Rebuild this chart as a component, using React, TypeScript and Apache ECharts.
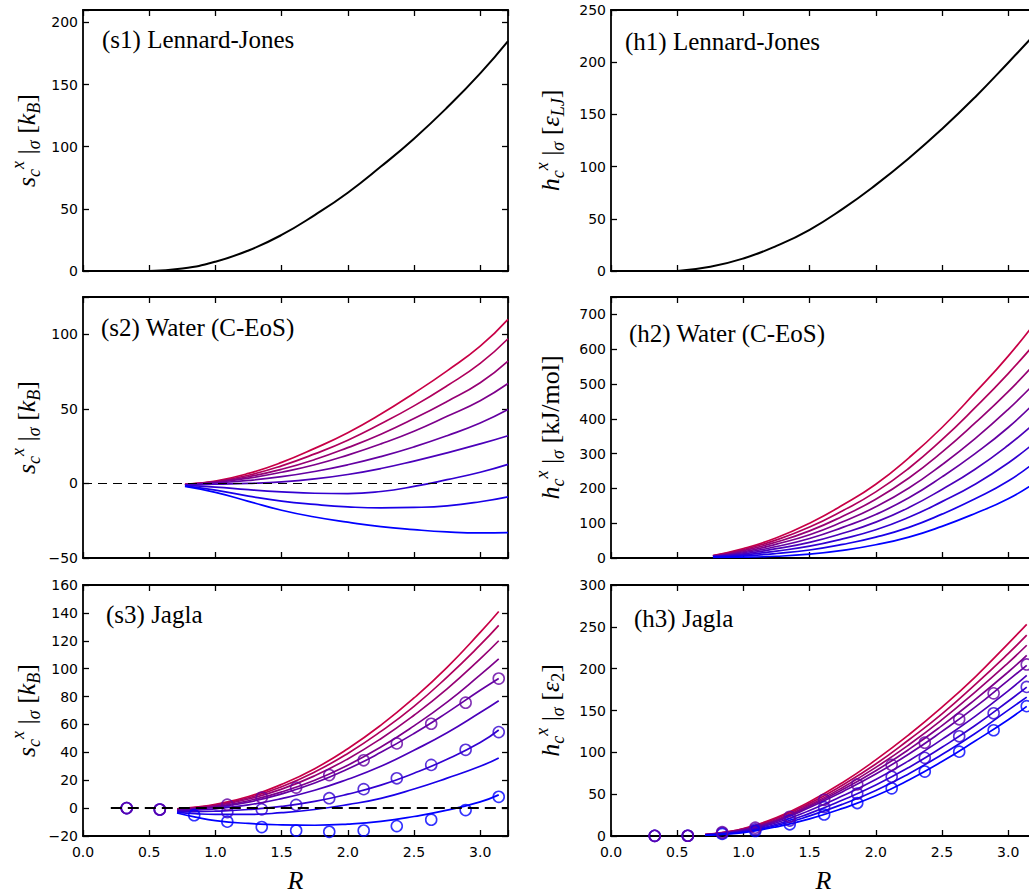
import React, { useEffect, useRef } from 'react';
import * as echarts from 'echarts';

// ---------- data ----------
const X_MAX = 3.21;

// Lennard-Jones
const R_LJ = [0.5, 0.75, 1.0, 1.25, 1.5, 1.75, 2.0, 2.25, 2.5, 2.75, 3.0, 3.21];
const S1 = [0, 2, 7.5, 16.5, 29, 45, 63, 84, 106.5, 131.5, 159, 185];
const H1 = [0, 4, 12, 24, 39.5, 59.5, 82.5, 108, 136, 166.5, 199.5, 228];

// Water (C-EoS): 9 curves, top (crimson) -> bottom (blue)
const R_WATER = [0.77, 1.0, 1.25, 1.5, 1.75, 2.0, 2.25, 2.5, 2.75, 3.0, 3.21];
const S2_1 = [-0.6, 1.6, 6.7, 14.1, 23.5, 34, 46.5, 60.5, 75.5, 92, 110];
const S2_2 = [-0.7, 1.3, 5.5, 11.8, 19.8, 29, 40, 52, 65.5, 80.5, 97];
const S2_3 = [-0.8, 1, 4.5, 9.5, 16, 24, 33, 43.5, 55, 67.5, 82];
const S2_4 = [-0.9, 0.7, 3.5, 7.5, 12.5, 19, 26.5, 35, 45, 55.5, 67];
const S2_5 = [-1, 0.3, 2, 4.5, 8, 12.5, 18, 24.5, 32, 40.5, 49.5];
const S2_6 = [-1.1, -0.5, 0, 1, 3, 6, 10, 15, 20.5, 26.5, 32];
const S2_7 = [-1.3, -2.5, -4.2, -5.6, -6.6, -6.8, -5.4, -2, 2.5, 7.5, 12.8];
const S2_8 = [-1.6, -4.5, -8.5, -11.9, -14.1, -15.7, -16.4, -16.1, -15, -12.3, -9];
const S2_9 = [-2, -6, -12, -18, -22.5, -26, -29, -31, -32.5, -33.2, -33];

const H2_1 = [7, 27, 58, 100, 152, 212, 288, 375, 475, 580, 680];
const H2_2 = [6.5, 24, 52, 89, 136, 190, 258, 340, 432, 530, 620];
const H2_3 = [6, 21, 46, 78, 120, 169, 230, 304, 388, 478, 562];
const H2_4 = [5.5, 18, 40, 67, 104, 147, 201, 268, 343, 427, 506];
const H2_5 = [5, 15, 33, 56, 88, 125, 173, 233, 300, 375, 450];
const H2_6 = [4.5, 12, 27, 45, 71, 103, 145, 197, 255, 324, 391];
const H2_7 = [4, 9, 20, 34, 55, 81, 117, 162, 212, 273, 335];
const H2_8 = [3, 6, 13, 23, 39, 60, 88, 126, 170, 221, 278];
const H2_9 = [2, 2.5, 5, 11, 22, 38, 60, 91, 128, 170, 218];

// Jagla: 9 theory curves + 3 simulation series
const R_JAGLA = [0.71, 0.85, 1.0, 1.25, 1.5, 1.75, 2.0, 2.25, 2.5, 2.75, 3.0, 3.14];
const S3_1 = [-0.6, 0.7, 2.7, 8.3, 17, 28.3, 42.6, 59.5, 79, 101, 126, 141];
const S3_2 = [-0.8, 0.4, 2.2, 7.4, 15.3, 25.9, 39.2, 55, 73, 94, 117, 131];
const S3_3 = [-1, 0.1, 1.7, 6.5, 13.6, 23.2, 35.3, 49.8, 66.6, 85.5, 107, 120];
const S3_4 = [-1.2, -0.3, 1.1, 5.3, 11.6, 20, 30.8, 43.8, 59, 76, 95.5, 107];
const S3_5 = [-1.5, -0.6, 0.6, 4.3, 10.2, 18, 28, 40, 53.5, 68.5, 84.5, 93];
const S3_6 = [-2, -1.4, -0.5, 2.3, 6.8, 12.8, 20.7, 30, 41.5, 54, 68.5, 77];
const S3_7 = [-2.5, -2.5, -2.2, -1, 1.2, 4.8, 10, 16.5, 25, 35, 47, 56];
const S3_8 = [-3, -4, -4.5, -4.5, -3.3, -1, 2.5, 7, 13.7, 21.5, 30, 36];
const S3_9 = [-3.5, -6.5, -9, -11, -12, -12.3, -11.5, -9.5, -6, -1.5, 4.5, 9.5];

const H3_1 = [1.8, 4.5, 9, 22, 41, 64, 91, 121, 154, 190, 230, 253];
const H3_2 = [1.7, 4.2, 8.5, 21, 39, 61, 86, 115, 146, 181, 218, 240];
const H3_3 = [1.6, 4, 8, 19.5, 37, 58, 82, 109, 139, 172, 207, 228];
const H3_4 = [1.5, 3.8, 7.5, 18.5, 35.5, 55.5, 78, 103.5, 132, 163, 196, 216];
const H3_5 = [1.4, 3.5, 7, 17.5, 34, 53, 74, 98, 125, 154, 186, 204];
const H3_6 = [1.3, 3.2, 6.2, 15.8, 30.5, 48, 67.5, 90, 115.5, 143, 173.5, 192];
const H3_7 = [1.2, 2.8, 5.5, 14, 27, 43, 61, 82, 106, 132, 161, 178];
const H3_8 = [1.1, 2.4, 4.8, 12.5, 24, 38, 54.5, 74.5, 97.5, 122.5, 150.5, 166];
const H3_9 = [1, 2, 4, 11, 20.5, 33, 48, 67, 89, 113.5, 139, 155];

const R_SIM = [0.33, 0.58, 0.84, 1.09, 1.35, 1.61, 1.86, 2.12, 2.37, 2.63, 2.89, 3.14];
const S3_SIM_PURPLE = [0, -1, null, 2.5, 7.6, 14.7, 23.7, 34.3, 46.4, 60.5, 75.6, 92.9];
const S3_SIM_VIOLET = [0, -1, null, -2.8, -0.9, 2.3, 7.1, 13.6, 21.4, 31, 41.8, 54.5];
const S3_SIM_BLUE = [0, -1, -5.1, -9.7, -13.6, -16.1, -17, -16.1, -12.9, -8.3, -1.4, 8.1];
const H3_SIM_PURPLE = [0.2, 0.3, 4.5, 10, 23, 43.3, 61.7, 85, 111.5, 139.5, 170.5, 205];
const H3_SIM_VIOLET = [0.2, 0.3, 3.5, 8, 18.5, 34.5, 50.6, 70.8, 93.4, 119.2, 146.7, 178.2];
const H3_SIM_BLUE = [0.2, 0.3, 2.5, 6, 14, 25.7, 39.4, 57, 77, 100.8, 126.4, 155.2];

const ZERO_S2_X = [0, 3.21];
const ZERO_S3_X = [0.21, 3.21];

const PANEL_LABELS = ['(s1) Lennard-Jones', '(h1) Lennard-Jones', '(s2) Water (C-EoS)', '(h2) Water (C-EoS)', '(s3) Jagla', '(h3) Jagla'];

// ---------- styles ----------
const COLORS = ['#C80046', '#AF005D', '#960074', '#7D008B', '#6400A2', '#4B00BA', '#3200D1', '#1900E8', '#0000FF'];
const SANS = 'DejaVu Sans';
const SERIF = 'Liberation Serif';

const COL_X = [83, 611];
const ROW_Y = [10, 297, 585];
const PW = 425;
const PH = 261;

const LABEL_POS = [
  [102, 39], [625, 41],
  [101, 327], [629, 333],
  [106, 614], [634, 618],
];

const zip = (xs: number[], ys: (number | null)[]) => xs.map((x, i) => [x, ys[i] === null ? '-' : ys[i]]);
const fmtNum = (v: number) => (v < 0 ? '\u2212' + Math.abs(v) : String(v));
const onStep = (v: number, s: number) => Math.abs(v / s - Math.round(v / s)) < 1e-6;

const rich: any = {
  i: { fontFamily: SERIF, fontStyle: 'italic', fontSize: 26, lineHeight: 34, color: '#000' },
  r: { fontFamily: SERIF, fontSize: 26, lineHeight: 34, color: '#000' },
  sb: { fontFamily: SERIF, fontStyle: 'italic', fontSize: 18, lineHeight: 18, verticalAlign: 'bottom', color: '#000' },
  sbr: { fontFamily: SERIF, fontSize: 18, lineHeight: 18, verticalAlign: 'bottom', color: '#000' },
  sp: { fontFamily: SERIF, fontStyle: 'italic', fontSize: 18, lineHeight: 18, verticalAlign: 'top', color: '#000' },
};

const Y_NAMES = [
  '{i|s}{sb|c}{sp|x}{r| |}{sb|σ}{r| [}{i|k}{sb|B}{r|]}',
  '{i|h}{sb|c}{sp|x}{r| |}{sb|σ}{r| [}{i|ε}{sb|LJ}{r|]}',
  '{i|s}{sb|c}{sp|x}{r| |}{sb|σ}{r| [}{i|k}{sb|B}{r|]}',
  '{i|h}{sb|c}{sp|x}{r| |}{sb|σ}{r| [kJ/mol]}',
  '{i|s}{sb|c}{sp|x}{r| |}{sb|σ}{r| [}{i|k}{sb|B}{r|]}',
  '{i|h}{sb|c}{sp|x}{r| |}{sb|σ}{r| [}{i|ε}{sbr|2}{r|]}',
];

const Y_RANGES: [number, number, number][] = [
  [0, 210, 50], [0, 250, 50],
  [-50, 125, 50], [0, 750, 100],
  [-20, 160, 20], [0, 300, 50],
];

export default function App() {
  const ref = useRef<HTMLDivElement>(null);

  useEffect(() => {
    const chart = echarts.init(ref.current!, null, { renderer: 'svg' });

    const grids: any[] = [];
    const xAxes: any[] = [];
    const yAxes: any[] = [];
    const series: any[] = [];
    const graphics: any[] = [];

    const axisLine = { show: true, onZero: false, lineStyle: { color: '#000', width: 1.8 } };
    const axisTick = { show: true, inside: true, length: 6, lineStyle: { color: '#000', width: 1.3 } };

    for (let i = 0; i < 6; i++) {
      const col = i % 2;
      const row = Math.floor(i / 2);
      grids.push({ left: COL_X[col], top: ROW_Y[row], width: PW, height: PH, containLabel: false });
      const showX = row === 2;
      const xBase = {
        type: 'value', gridIndex: i, min: 0, max: X_MAX, interval: 0.5,
        axisLine, axisTick, splitLine: { show: false },
      };
      xAxes.push({
        ...xBase, position: 'bottom',
        axisLabel: {
          show: showX, margin: 9, fontFamily: SANS, fontSize: 14, color: '#000',
          formatter: (v: number) => (onStep(v, 0.5) ? v.toFixed(1) : ''),
        },
        name: showX ? 'R' : '', nameLocation: 'middle', nameGap: 31,
        nameTextStyle: { fontFamily: SERIF, fontStyle: 'italic', fontSize: 26, color: '#000' },
      });
      xAxes.push({ ...xBase, position: 'top', axisLabel: { show: false } });

      const [ymin, ymax, yint] = Y_RANGES[i];
      const yBase = {
        type: 'value', gridIndex: i, min: ymin, max: ymax, interval: yint,
        axisLine, axisTick, splitLine: { show: false },
      };
      yAxes.push({
        ...yBase, position: 'left',
        axisLabel: {
          show: true, margin: 5, fontFamily: SANS, fontSize: 14, color: '#000',
          formatter: (v: number) => (onStep(v, yint) ? fmtNum(v) : ''),
        },
        name: Y_NAMES[i], nameLocation: 'middle', nameRotate: 90, nameGap: col === 0 ? 40 : 44,
        nameTextStyle: { rich, fontFamily: SERIF, fontSize: 26, color: '#000' },
      });
      yAxes.push({ ...yBase, position: 'right', axisLabel: { show: false } });

      graphics.push({
        type: 'text', x: LABEL_POS[i][0], y: LABEL_POS[i][1], silent: true,
        style: { text: PANEL_LABELS[i], fontFamily: SERIF, fontSize: 25, fill: '#000', verticalAlign: 'middle', align: 'left' },
      });
    }

    const line = (gi: number, xs: number[], ys: number[], color: string, width = 1.7) => ({
      type: 'line', xAxisIndex: gi * 2, yAxisIndex: gi * 2, data: zip(xs, ys),
      showSymbol: false, symbol: 'none', smooth: 0.5, z: 2,
      lineStyle: { color, width }, silent: true,
    });
    const dashed = (gi: number, xs: number[], width: number, dash: number[]) => ({
      type: 'line', xAxisIndex: gi * 2, yAxisIndex: gi * 2, data: xs.map((x) => [x, 0]),
      showSymbol: false, symbol: 'none', z: 5, silent: true,
      lineStyle: { color: '#000', width, type: dash },
    });
    const circles = (gi: number, ys: (number | null)[], color: string) => ({
      type: 'scatter', xAxisIndex: gi * 2, yAxisIndex: gi * 2, data: zip(R_SIM, ys),
      symbol: 'circle', symbolSize: 11, z: 4, silent: true,
      itemStyle: { color: 'rgba(0,0,0,0)', borderColor: color, borderWidth: 1.6 },
    });

    series.push(line(0, R_LJ, S1, '#000', 2));
    series.push(line(1, R_LJ, H1, '#000', 2));

    const s2 = [S2_1, S2_2, S2_3, S2_4, S2_5, S2_6, S2_7, S2_8, S2_9];
    const h2 = [H2_1, H2_2, H2_3, H2_4, H2_5, H2_6, H2_7, H2_8, H2_9];
    const s3 = [S3_1, S3_2, S3_3, S3_4, S3_5, S3_6, S3_7, S3_8, S3_9];
    const h3 = [H3_1, H3_2, H3_3, H3_4, H3_5, H3_6, H3_7, H3_8, H3_9];
    for (let k = 0; k < 9; k++) {
      series.push(line(2, R_WATER, s2[k], COLORS[k]));
      series.push(line(3, R_WATER, h2[k], COLORS[k]));
      series.push(line(4, R_JAGLA, s3[k], COLORS[k]));
      series.push(line(5, R_JAGLA, h3[k], COLORS[k]));
    }
    series.push(dashed(2, ZERO_S2_X, 1.1, [9, 6]));
    series.push(dashed(4, ZERO_S3_X, 2, [11, 6]));

    series.push(circles(4, S3_SIM_BLUE, COLORS[8]));
    series.push(circles(4, S3_SIM_VIOLET, COLORS[6]));
    series.push(circles(4, S3_SIM_PURPLE, COLORS[4]));
    series.push(circles(5, H3_SIM_BLUE, COLORS[8]));
    series.push(circles(5, H3_SIM_VIOLET, COLORS[6]));
    series.push(circles(5, H3_SIM_PURPLE, COLORS[4]));

    chart.setOption({
      animation: false,
      backgroundColor: '#fff',
      grid: grids,
      xAxis: xAxes,
      yAxis: yAxes,
      series,
      graphic: graphics,
    });
    return () => chart.dispose();
  }, []);

  return (
    <div style={{ position: 'fixed', left: 0, top: 0, width: 1029, height: 894, overflow: 'hidden', background: '#fff' }}>
      <div ref={ref} style={{ width: 1060, height: 894 }} />
    </div>
  );
}
